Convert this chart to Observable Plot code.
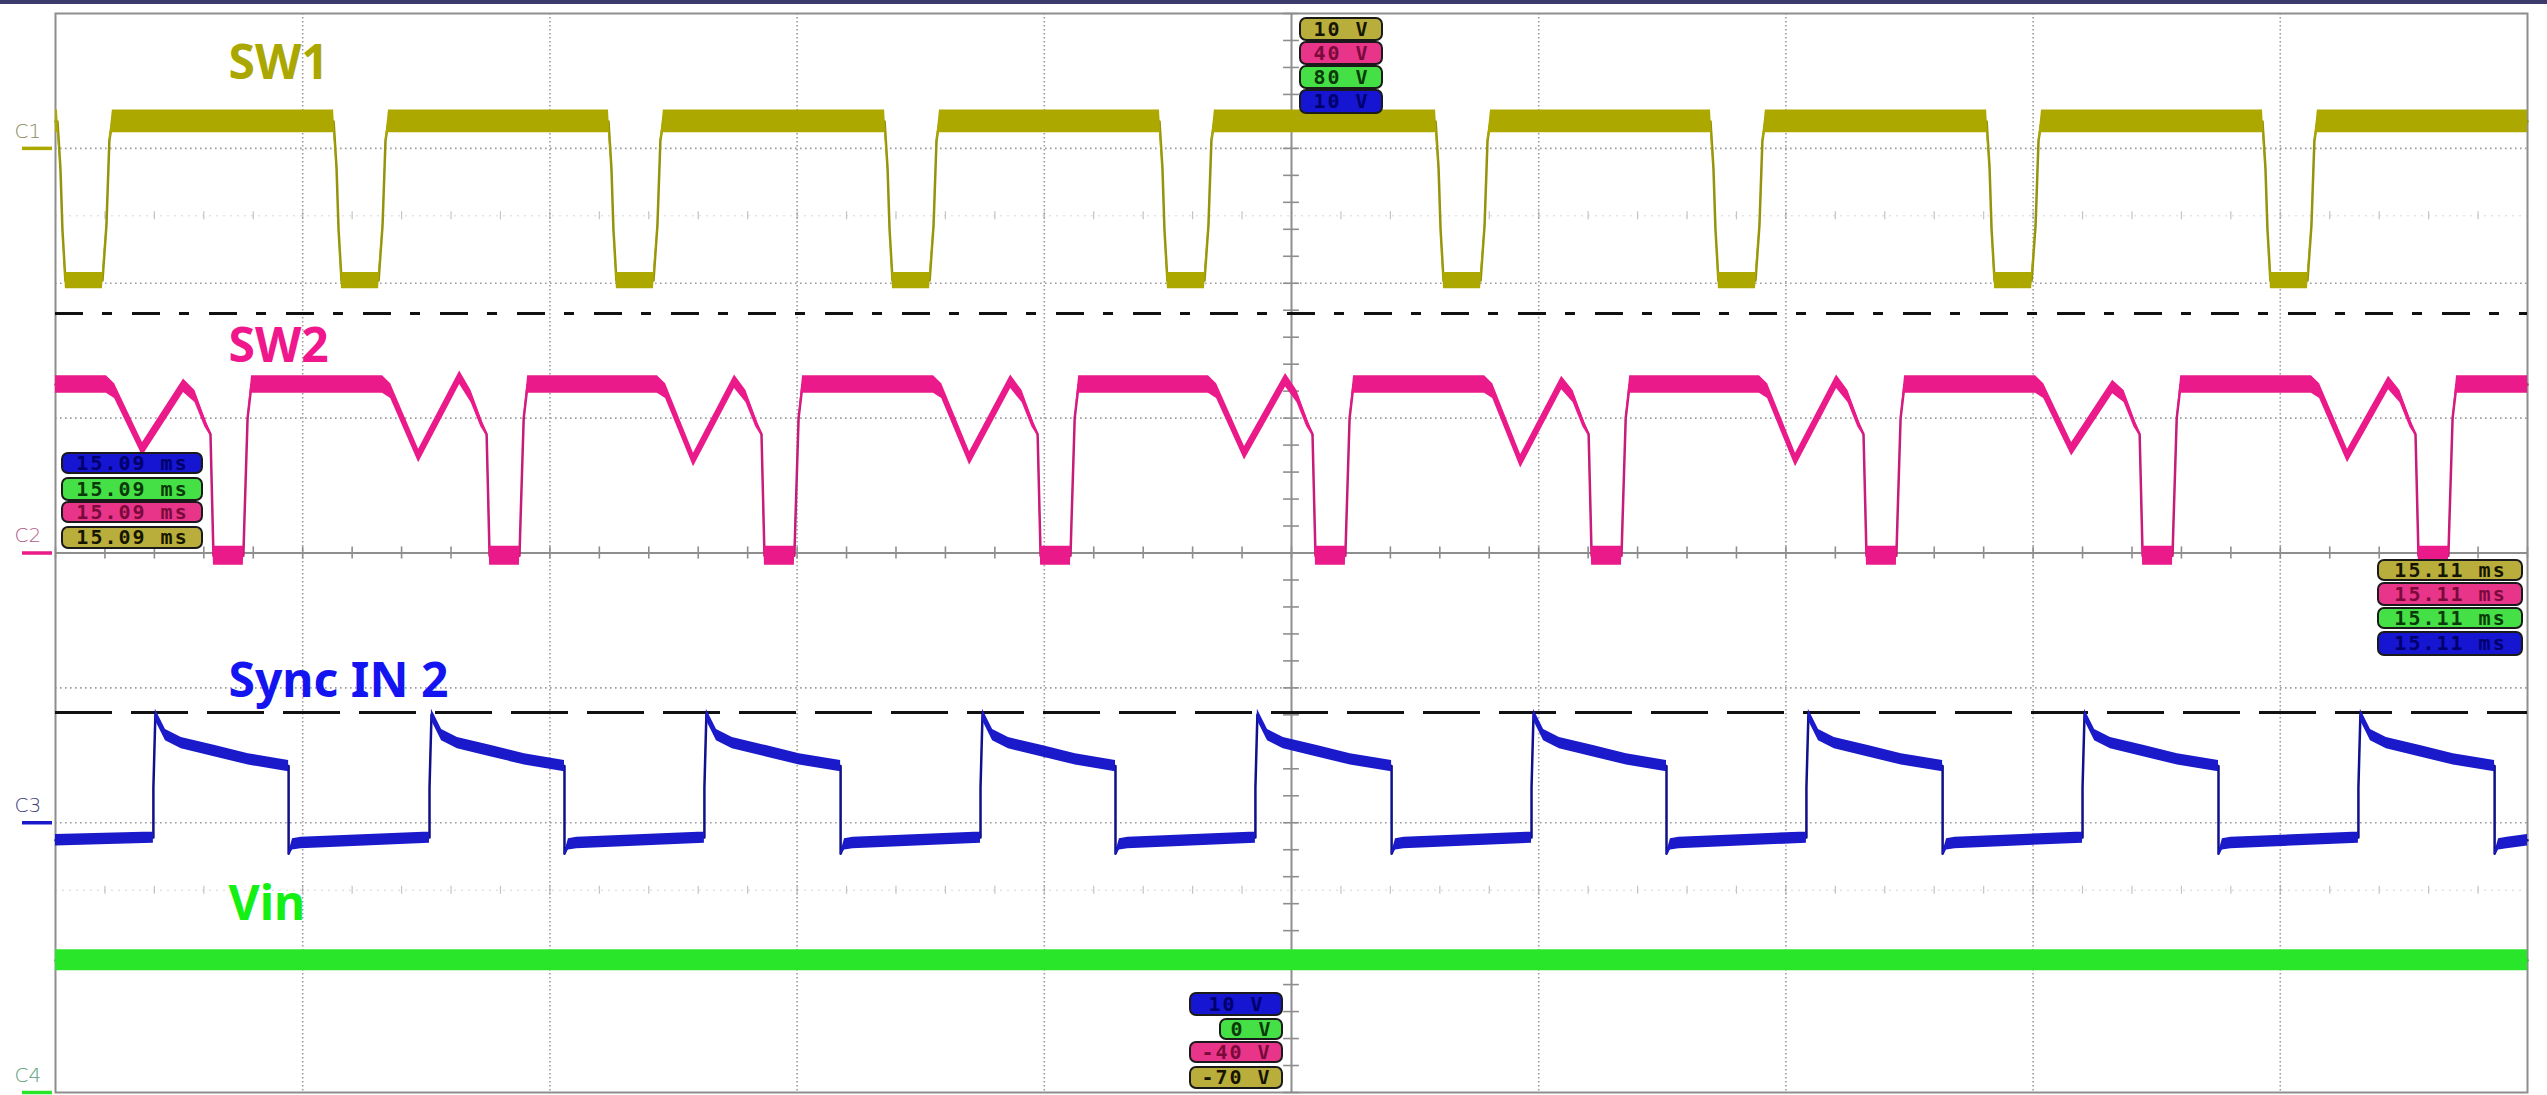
<!DOCTYPE html>
<html><head><meta charset="utf-8">
<script src="https://cdn.jsdelivr.net/npm/d3@7"></script>
<script src="https://cdn.jsdelivr.net/npm/@observablehq/plot@0.6"></script>
<style>
html,body{margin:0;padding:0;background:#fff;overflow:hidden}
#bar{height:4px;background:#3d3a6c}
#chart svg{display:block}
</style></head><body>
<div id="bar"></div>
<div id="chart"></div>
<script>
// ---------- DATA (time in screen divisions 0..10, level in divisions -4..4) ----------
const channelNames   = ["C1", "C2", "C3", "C4"];
const channelOffsets = [3, 0, -2, -4];
const traceNames     = ["SW1", "SW2", "Sync IN 2", "Vin"];

// SW1: start of each falling edge, and one dip's shape (offset from fall start, level)
const sw1FallStart = [0.008, 1.125, 2.237, 3.354, 4.466, 5.583, 6.695, 7.812, 8.928];
const sw1DipT = [0, 0.012, 0.020, 0.032, 0.182, 0.198, 0.210, 0.222];
const sw1DipV = [3.20, 2.85, 2.40, 2.02, 2.02, 2.43, 3.06, 3.20];
const sw1High = 3.20, sw1Low = 2.02;

// SW2: start of each low pulse, per-cycle valley bottom and peak, and the cycle shape
const sw2LowStart = [0.639, 1.756, 2.868, 3.985, 5.097, 6.214, 7.326, 8.443, 9.559];
const sw2Valley   = [0.77, 0.72, 0.69, 0.70, 0.74, 0.68, 0.69, 0.77, 0.72];
const sw2Peak     = [1.24, 1.30, 1.27, 1.27, 1.28, 1.26, 1.27, 1.23, 1.26];
const sw2High = 1.25, sw2Low = -0.02;
const sw2ShapeT = [-0.433, -0.400, -0.287, -0.121, -0.075, -0.035, -0.012, 0, 0.121, 0.125, 0.138, 0.154];

// Sync IN 2: rising and falling edges, and the decay after each rise
const syncRise = [0.396, 1.513, 2.625, 3.742, 4.854, 5.971, 7.083, 8.200, 9.316];
const syncFall = [0.943, 2.059, 3.176, 4.288, 5.405, 6.517, 7.634, 8.750, 9.867];
const syncHighT = [0, 0.008, 0.049, 0.113, 0.250, 0.384];
const syncHighV = [-1.74, -1.20, -1.35, -1.41, -1.47, -1.53];
const syncEndOfHigh = -1.58, syncUndershoot = -2.23, syncLowAfter = [-2.16, -2.15], syncLowBefore = -2.11, syncStart = -2.13;

// Vin: flat
const vinT = [0, 10];
const vinV = [-3.02, -3.02];

// Cursors
const cursorDashDot = 1.775;
const cursorDashed = -1.182;

// On-screen readouts
const voltTop    = ["10 V", "40 V", "80 V", "10 V"];       // olive, pink, green, blue
const voltBottom = ["10 V", "0 V", "-40 V", "-70 V"];      // blue, green, pink, olive
const timeLeft   = ["15.09 ms", "15.09 ms", "15.09 ms", "15.09 ms"]; // blue, green, pink, olive
const timeRight  = ["15.11 ms", "15.11 ms", "15.11 ms", "15.11 ms"]; // olive, pink, green, blue

// ---------- build series ----------
const sw1 = [{t: 0, v: sw1High}];
for (const f of sw1FallStart) sw1DipT.forEach((dt, i) => sw1.push({t: f + dt, v: sw1DipV[i]}));
sw1.push({t: 10, v: sw1High});
sw1.forEach(d => d.h = d.v === sw1High ? 0.085 : d.v === sw1Low ? 0.06 : 0.012);

const sw2 = [{t: 0, v: sw2High, h: 0.065}];
sw2LowStart.forEach((L, i) => {
  const vs = [sw2High, 1.20, sw2Valley[i], sw2Peak[i], 1.16, 0.97, 0.88, sw2Low, sw2Low, 0.23, 1.00, sw2High];
  const hs = [0.065, 0.055, 0.05, 0.05, 0.045, 0.035, 0.012, 0.07, 0.07, 0.01, 0.01, 0.065];
  sw2ShapeT.forEach((dt, j) => sw2.push({t: L + dt, v: vs[j], h: hs[j]}));
});
sw2.push({t: 10, v: sw2High, h: 0.065});

const sync = [{t: 0, v: syncStart, h: 0.042}];
syncRise.forEach((R, i) => {
  const F = syncFall[i];
  sync.push({t: R, v: syncLowBefore, h: 0.042});
  syncHighT.forEach((dt, j) => sync.push({t: R + dt, v: syncHighV[j], h: j === 0 ? 0.005 : 0.042}));
  sync.push({t: F, v: syncEndOfHigh, h: 0.042});
  sync.push({t: F, v: syncUndershoot, h: 0.01});
  sync.push({t: F + 0.016, v: syncLowAfter[0], h: 0.042});
  sync.push({t: F + 0.05, v: syncLowAfter[1], h: 0.042});
});
sync.push({t: 10, v: syncStart, h: 0.042});

const vin = vinT.map((t, i) => ({t, v: vinV[i], h: 0.078}));

// ---------- layout helpers (page px -> plot units) ----------
const X = px => (px - 55) / 247.2;
const Y = py => 4 - (py - 13) / 134.875;

const C = {olive: "#aca800", pink: "#ea1a8a", green: "#2ae62a", blue: "#1a1acb"};
const lineC = {olive: "#94920c", pink: "#c41c78", green: "#1fc81f", blue: "#101088"};
const boxFill = {olive: "#b9ae3c", pink: "#e8358a", green: "#45e045", blue: "#1515d2"};
const boxText = {olive: "#161600", pink: "#7a0a3a", green: "#0a3a0a", blue: "#00006a"};

function boxes(labels, colors, x1, x2, rows) {
  return labels.map((s, i) => ({s, c: colors[i], x1: X(x1[i] ?? x1), x2: X(x2), y1: Y(rows[i][1]), y2: Y(rows[i][0])}));
}
const boxData = [
  ...boxes(voltTop, ["olive","pink","green","blue"], 1300, 1382, [[18,40],[42,64],[66,88],[90,113]]),
  ...boxes(voltBottom, ["blue","green","pink","olive"], [1190,1220,1190,1190], 1282, [[993,1015],[1019,1039],[1042,1062],[1067,1088]]),
  ...boxes(timeLeft, ["blue","green","pink","olive"], 62, 202, [[453,473],[478,500],[502,522],[527,548]]),
  ...boxes(timeRight, ["olive","pink","green","blue"], 2378, 2522, [[560,580],[583,605],[608,628],[632,655]])
];

const chColors = ["olive","pink","blue","green"];
const chText = ["#8a8a5a", "#b0608c", "#40407a", "#5aa07a"];
const chData = channelNames.map((n, i) => ({n, y: channelOffsets[i], c: C[chColors[i]], tc: chText[i]}));

const labelData = traceNames.map((n, i) => ({n, c: ["#aaa800", "#f0168c", "#1414f0", "#14f014"][i], y: Y([63, 346, 681, 904][i])}));

const minorY = d3.range(-40, 41, 2).map(k => k / 10);
const minorX = d3.range(0, 101, 2).map(k => k / 10);

function trace(data, col) {
  return [
    Plot.line(data, {x: "t", y: "v", stroke: lineC[col], strokeWidth: 2.5, strokeLinejoin: "round"}),
    Plot.areaY(data, {x: "t", y1: d => d.v - d.h, y2: d => d.v + d.h, fill: C[col]})
  ];
}

const plot = Plot.plot({
  width: 2547, height: 1091,
  marginLeft: 55, marginRight: 20, marginTop: 9, marginBottom: 3,
  x: {domain: [0, 10], axis: null},
  y: {domain: [-4, 4], axis: null},
  style: {background: "#ffffff"},
  marks: [
    // faint minor rows
    Plot.ruleY([2.5, -2.5], {stroke: "#d6d6d6", strokeDasharray: "2,5", strokeWidth: 1}),
    Plot.ruleX(minorX, {y1: 2.5 - 0.03, y2: 2.5 + 0.03, stroke: "#c4c4c4", strokeWidth: 1.2}),
    Plot.ruleX(minorX, {y1: -2.5 - 0.03, y2: -2.5 + 0.03, stroke: "#c4c4c4", strokeWidth: 1.2}),
    // dotted grid
    Plot.ruleX([1, 2, 3, 4, 6, 7, 8, 9], {stroke: "#9c9c9c", strokeDasharray: "1.6,2.4", strokeWidth: 1.6}),
    Plot.ruleY([3, 2, 1, -1, -2, -3], {stroke: "#9c9c9c", strokeDasharray: "1.6,3.4", strokeWidth: 1.6}),
    // center axes with ticks
    Plot.ruleX([5], {stroke: "#8e8e8e", strokeWidth: 2}),
    Plot.ruleY([0], {stroke: "#8e8e8e", strokeWidth: 2}),
    Plot.ruleY(minorY, {x1: 5 - 0.032, x2: 5 + 0.032, stroke: "#8e8e8e", strokeWidth: 1.6}),
    Plot.ruleX(minorX, {y1: -0.045, y2: 0.045, stroke: "#8e8e8e", strokeWidth: 1.6}),
    Plot.frame({stroke: "#8e8e8e", strokeWidth: 2}),
    // cursors
    Plot.ruleY([cursorDashDot], {stroke: "#111", strokeWidth: 3, strokeDasharray: "28,19,10,20"}),
    Plot.ruleY([cursorDashed], {stroke: "#111", strokeWidth: 3, strokeDasharray: "57,19"}),
    // traces
    ...trace(vin, "green"),
    ...trace(sync, "blue"),
    ...trace(sw2, "pink"),
    ...trace(sw1, "olive"),
    // channel markers
    Plot.ruleY(chData, {y: "y", x1: X(22), x2: X(52), stroke: "c", strokeWidth: 3.5}),
    Plot.text(chData, {x: X(14), y: "y", dy: -17, text: "n", fill: "tc", textAnchor: "start", fontSize: 20, fontFamily: "DejaVu Sans", fontWeight: 300}),
    // readout boxes
    Plot.rect(boxData, {x1: "x1", x2: "x2", y1: "y1", y2: "y2", fill: d => boxFill[d.c], stroke: "#1a1a1a", strokeWidth: 2, rx: 6}),
    Plot.text(boxData, {x: d => (d.x1 + d.x2) / 2, y: d => (d.y1 + d.y2) / 2, text: "s", fill: d => boxText[d.c], fontSize: 20, fontWeight: 700, fontFamily: "DejaVu Sans Mono", textAnchor: "middle", lineAnchor: "middle"}),
    // trace names
    Plot.text(labelData, {x: X(228), y: "y", text: "n", fill: "c", fontSize: 48, fontWeight: 700, fontFamily: "Noto Sans", textAnchor: "start", lineAnchor: "middle"})
  ]
});
document.getElementById("chart").appendChild(plot);
d3.select(plot).selectAll('g[font-family="DejaVu Sans Mono"]').attr("letter-spacing", "2");
</script>
</body></html>
